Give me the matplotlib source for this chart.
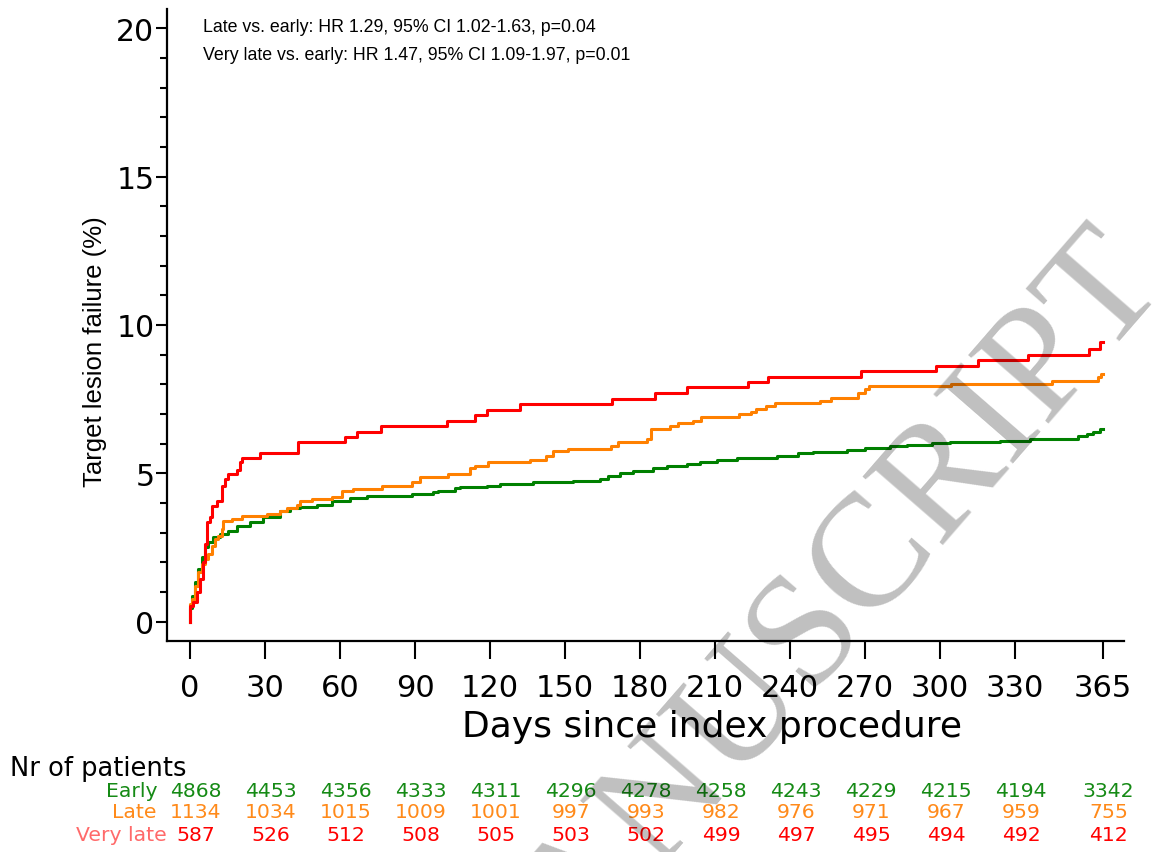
import matplotlib
matplotlib.use("Agg")
import matplotlib.pyplot as plt
import matplotlib.transforms as mtransforms
from matplotlib import font_manager
from matplotlib.ticker import MultipleLocator

# cumulative incidence (day of step, % after step)
days_early = [0, 0, 0.7, 2, 3.3, 4.7, 6, 7.3, 9.3, 12, 15.3, 18.7, 24, 29.3, 36, 40, 44,
              50.7, 56.7, 64, 70.7, 77.3, 88.7, 97.3, 99.3, 106, 108, 118.7, 124, 137.3,
              153.3, 164, 167.3, 172, 177.3, 185.3, 190.7, 198.7, 204, 210.7, 218.7, 234.7,
              243.3, 249.3, 262.7, 270, 280, 286.7, 296.7, 304, 324, 336, 355.3, 358.7,
              361.3, 364, 365]
pct_early = [0, 0.45, 0.88, 1.33, 1.78, 2.17, 2.51, 2.68, 2.84, 2.96, 3.07, 3.21, 3.35, 3.52,
             3.74, 3.82, 3.88, 3.95, 4.08, 4.16, 4.23, 4.25, 4.3, 4.38, 4.42, 4.5, 4.53, 4.58,
             4.64, 4.7, 4.75, 4.81, 4.92, 5.0, 5.07, 5.18, 5.24, 5.32, 5.37, 5.45, 5.51, 5.6,
             5.69, 5.73, 5.79, 5.85, 5.91, 5.97, 6.01, 6.05, 6.1, 6.16, 6.25, 6.33, 6.4, 6.49,
             6.49]

days_late = [0, 0, 0.7, 2, 3.3, 4.7, 6, 7.3, 8.7, 10, 11.3, 12.7, 13.3, 16.7, 20.7, 30.7, 36,
             38.7, 42.7, 44, 48.7, 56.7, 60.7, 65.3, 76.7, 88.7, 92, 103.3, 112, 114, 119, 136,
             142.4, 145, 151, 168.3, 171.3, 182.7, 184.3, 192, 195.3, 201.3, 204.4, 219.6,
             224.3, 226.4, 230.4, 234, 252, 256.3, 267, 270, 271.6, 304.3, 344.7, 363.3,
             364.2, 365]
pct_late = [0, 0.6, 0.77, 1.21, 1.66, 1.94, 2.11, 2.28, 2.56, 2.79, 2.9, 3.12, 3.4, 3.46, 3.55,
            3.63, 3.74, 3.82, 3.93, 4.08, 4.14, 4.19, 4.42, 4.47, 4.58, 4.7, 4.87, 4.98, 5.17,
            5.26, 5.37, 5.46, 5.57, 5.74, 5.82, 5.93, 6.05, 6.16, 6.49, 6.61, 6.7, 6.77, 6.89,
            7.0, 7.08, 7.17, 7.28, 7.36, 7.45, 7.53, 7.71, 7.84, 7.93, 8.01, 8.12, 8.24, 8.35,
            8.35]

days_vlate = [0, 0, 1.3, 2.7, 4, 5.3, 6, 6.9, 8, 8.9, 10.7, 12.7, 14, 15.3, 18.9, 20, 20.9, 28,
              43.3, 62, 66.9, 76.3, 102.7, 114, 118.9, 132, 168.9, 186, 198.9, 223.3, 231.3,
              268.3, 298.3, 315.3, 335.3, 359.6, 364, 365]
pct_vlate = [0, 0.54, 0.67, 1.0, 1.44, 2.01, 2.62, 3.36, 3.53, 3.9, 4.07, 4.57, 4.81, 4.98,
             5.12, 5.38, 5.52, 5.69, 6.06, 6.23, 6.39, 6.6, 6.77, 6.97, 7.15, 7.34, 7.51, 7.71,
             7.9, 8.09, 8.26, 8.46, 8.63, 8.82, 8.99, 9.19, 9.42, 9.42]

tick_days = [0, 30, 60, 90, 120, 150, 180, 210, 240, 270, 300, 330, 365]
at_risk_early = [4868, 4453, 4356, 4333, 4311, 4296, 4278, 4258, 4243, 4229, 4215, 4194, 3342]
at_risk_late = [1134, 1034, 1015, 1009, 1001, 997, 993, 982, 976, 971, 967, 959, 755]
at_risk_vlate = [587, 526, 512, 508, 505, 503, 502, 499, 497, 495, 494, 492, 412]

hr_lines = ["Late vs. early: HR 1.29, 95% CI 1.02-1.63, p=0.04",
            "Very late vs. early: HR 1.47, 95% CI 1.09-1.97, p=0.01"]

c_early, c_late, c_vlate = "#008000", "#ff8000", "#ff0000"

# narrow sans if the system has it, else plain Liberation Sans a bit smaller
installed = {f.name for f in font_manager.fontManager.ttflist}
if "Liberation Sans Narrow" in installed:
    narrow, ann_size, ylab_size = "Liberation Sans Narrow", 15.7, 22.5
else:
    narrow, ann_size, ylab_size = "Liberation Sans", 12.8, 18.5

W, H = 1155, 853
fig = plt.figure(figsize=(W / 100, H / 100), dpi=100)
ax = fig.add_axes([167 / W, (H - 642) / H, (1124 - 167) / W, 632 / H])

ax.plot(days_early, pct_early, drawstyle="steps-post", color=c_early, lw=2.2)
ax.plot(days_late, pct_late, drawstyle="steps-post", color=c_late, lw=2.2)
ax.plot(days_vlate, pct_vlate, drawstyle="steps-post", color=c_vlate, lw=2.2)

ax.set_xlim(-9.2, 373.6)
ax.set_ylim(-0.65, 20.65)
ax.spines["top"].set_visible(False)
ax.spines["right"].set_visible(False)
for s in ("left", "bottom"):
    ax.spines[s].set_linewidth(1.6)

ax.set_xticks(tick_days)
ax.set_yticks([0, 5, 10, 15, 20])
ax.yaxis.set_minor_locator(MultipleLocator(1))
ax.tick_params(axis="y", which="major", length=8, width=1.5, labelsize=21.5, pad=1)
ax.tick_params(axis="y", which="minor", length=5, width=1.5)
ax.tick_params(axis="x", which="major", length=13, width=1.5, labelsize=22, pad=10)

fig.text(712 / W, 1 - 727 / H, "Days since index procedure", ha="center", va="center",
         fontsize=26)
fig.text(95 / W, 1 - 352 / H, "Target lesion failure (%)", ha="center", va="center",
         rotation=90, fontsize=ylab_size, family=narrow)

for i, line in enumerate(hr_lines):
    fig.text(203 / W, 1 - (28 + 27 * i) / H, line, ha="left", va="center",
             family=narrow, fontsize=ann_size)

# number at risk table
fig.text(10 / W, 1 - 769 / H, "Nr of patients", ha="left", va="center", fontsize=18.5)
trans = mtransforms.blended_transform_factory(ax.transData, fig.transFigure)
rows = [("Early", at_risk_early, "#158a15", "#158a15", 157, 792),
        ("Late", at_risk_late, "#ff8a1a", "#ff8a1a", 157, 813),
        ("Very late", at_risk_vlate, c_vlate, "#ff6a6a", 167, 836)]
for name, counts, num_col, lab_col, lab_x, y in rows:
    fig.text(lab_x / W, 1 - y / H, name, ha="right", va="center", fontsize=14.7,
             color=lab_col)
    for d, n in zip(tick_days, counts):
        ax.text(d + 2.4, 1 - y / H, str(n), transform=trans, ha="center", va="center",
                fontsize=14.7, color=num_col, clip_on=False)

# watermark, partly off the page as in the reference
fig.text(1168 / W, 1 - 285 / H, "ACCEPTED MANUSCRIPT", rotation=49, rotation_mode="anchor",
         ha="right", va="baseline", fontsize=116, family="Liberation Serif",
         color="black", alpha=0.25, zorder=10)

fig.savefig("out.png", dpi=100)
